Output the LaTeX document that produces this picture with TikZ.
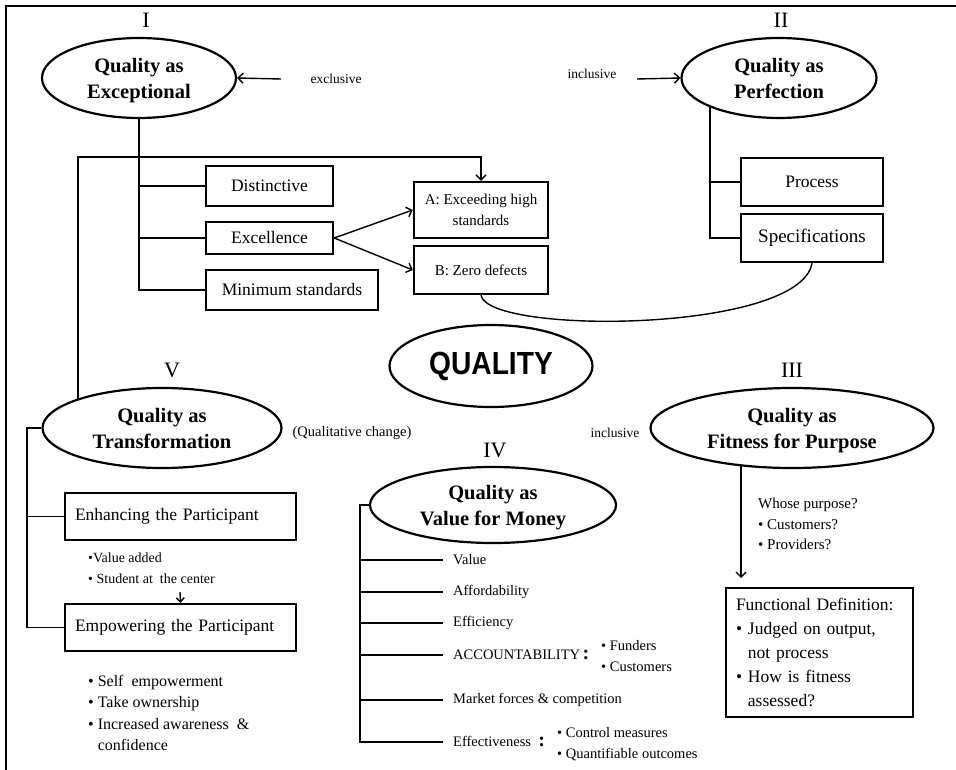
\documentclass[tikz,border=0pt]{standalone}
\usepackage{fontspec}
\setmainfont{Liberation Serif}
\newfontfamily\qfont{Liberation Sans}
\usetikzlibrary{shapes.geometric,arrows.meta,backgrounds}
\begin{document}
\begin{tikzpicture}[x=1pt,y=-1pt,
  oval/.style={ellipse,draw,line width=2.2pt,fill=white,inner sep=0pt,align=center,text depth=0pt,font=\fontsize{20.5}{26}\selectfont\bfseries},
  box/.style={rectangle,draw,line width=2.4pt,fill=white,inner sep=0pt,align=center,font=\fontsize{17.5}{22}\selectfont},
  conn/.style={line width=1.4pt},
  arr/.style={conn,-{Straight Barb[length=5pt,width=10pt]}},
  lbl/.style={inner sep=0pt,align=left},
  item/.style={anchor=west,inner xsep=10pt,inner ysep=0pt,font=\fontsize{14.5}{18}\selectfont},
  roman/.style={font=\fontsize{22}{22}\selectfont,inner sep=0pt}]
\useasboundingbox (0,0) rectangle (956,770);
\draw[line width=2.2pt] (6,770) -- (6,6) -- (956,6);

% roman numerals
\node[roman] (nI) at (146,20) {I};
\node[roman] (nII) at (781,20) {II};
\node[roman] (nIII) at (792,370) {III};
\node[roman] (nIV) at (495,450) {IV};
\node[roman] (nV) at (172,370) {V};

% ellipses
\node[oval,minimum width=194pt,minimum height=80pt] (exc) at (139,78) {Quality as\\Exceptional};
\node[oval,minimum width=195pt,minimum height=80pt] (perf) at (779,78) {Quality as\\Perfection};
\node[oval,minimum width=239pt,minimum height=80pt] (trans) at (162,428) {Quality as\\Transformation};
\node[oval,minimum width=246pt,minimum height=76pt] (vfm) at (493,505) {Quality as\\Value for Money};
\node[oval,minimum width=283pt,minimum height=80pt] (fit) at (792,428) {Quality as\\Fitness for Purpose};
\node[ellipse,draw,line width=2.2pt,fill=white,inner sep=0pt,minimum width=203pt,minimum height=82pt,font=\qfont\bfseries\fontsize{32}{32}\selectfont] (q) at (491,366) {\scalebox{0.88}[1]{QUALITY}};

% side labels
\node[lbl,font=\fontsize{13.5}{16}\selectfont] (exclusive) at (336,79) {exclusive};
\node[lbl,font=\fontsize{13.5}{16}\selectfont] (incl1) at (592,74) {inclusive};
\node[lbl,font=\fontsize{13.5}{16}\selectfont] (incl2) at (615,433) {inclusive};
\node[lbl,font=\fontsize{14.5}{18}\selectfont] (qchange) at (352,433) {(Qualitative change)};

% boxes
\node[box,minimum width=127pt,minimum height=40pt] (dist) at (269.5,186) {Distinctive};
\node[box,minimum width=127pt,minimum height=32pt] (excel) at (269.5,238) {Excellence};
\node[box,minimum width=172pt,minimum height=40pt] (mins) at (292,290) {Minimum standards};
\node[box,minimum width=134pt,minimum height=56pt,font=\fontsize{15}{21}\selectfont] (boxA) at (481,210) {A: Exceeding high\\standards};
\node[box,minimum width=134pt,minimum height=48pt,font=\fontsize{15}{21}\selectfont] (boxB) at (481,270) {B: Zero defects};
\node[box,minimum width=142pt,minimum height=48pt] (proc) at (812,182) {Process};
\node[box,minimum width=142pt,minimum height=48pt,font=\fontsize{19}{22}\selectfont] (spec) at (812,238) {Specifications};
\node[box,minimum width=231pt,minimum height=47pt,text width=211pt,align=left] (enh) at (180.5,516.5) {Enhancing the Participant};
\node[box,minimum width=231pt,minimum height=47pt,text width=211pt,align=left] (empw) at (180.5,627.5) {Empowering the Participant};
\node[box,minimum width=187pt,minimum height=129pt,text width=167pt,align=left,font=\fontsize{17.5}{24}\selectfont] (func) at (819.5,652.5) {Functional Definition:\\• Judged on output,\\\phantom{• }not process\\• How is fitness\\\phantom{• }assessed?};

% bullet texts
\node[lbl,anchor=north west,font=\fontsize{14}{21}\selectfont] (b1) at (88,553) {•Value added\\• Student at\ \ the center};
\node[lbl,anchor=north west,font=\fontsize{16}{21.5}\selectfont] (b2) at (88,675) {• Self\ \ empowerment\\• Take ownership\\• Increased awareness\ \ \&\\\phantom{• }confidence};
\node[lbl,anchor=north west,font=\fontsize{15}{20.5}\selectfont] (whose) at (758,498) {Whose purpose?\\• Customers?\\• Providers?};

% value for money items
\node[item] (iVal) at (443,560) {Value};
\node[item] (iAff) at (443,592) {Affordability};
\node[item] (iEffi) at (443,623) {Efficiency};
\node[item] (iAcc) at (443,655) {ACCOUNTABILITY\,{\fontsize{20}{20}\selectfont\bfseries :}};
\node[item] (iMkt) at (443,700) {Market forces \& competition};
\node[item] (iEff) at (443,742) {Effectiveness\ \ {\fontsize{20}{20}\selectfont\bfseries :}};
\node[lbl,anchor=west,font=\fontsize{14.5}{21}\selectfont] (accB) at (601,656) {• Funders\\• Customers};
\node[lbl,anchor=west,font=\fontsize{14.5}{21}\selectfont] (effB) at (557,744) {• Control measures\\• Quantifiable outcomes};

% connectors
\coordinate (exA) at (281,79);
\coordinate (inA) at (637,79);
\draw[arr] (exA) -- (exc.east);
\draw[arr] (inA) -- (perf.west);
\draw[arr] (excel.east) -- (boxA.west);
\draw[arr] (excel.east) -- (boxB.west);
\draw[conn] (boxB.south) .. controls (488,335) and (800,333) .. (spec.south);
\coordinate (sa) at (180,592);
\draw[conn,-{Straight Barb[length=4pt,width=8pt]}] (sa) -- (empw.north);

\begin{scope}[on background layer]
\draw[conn] (exc.south) |- (mins.west);
\draw[conn] (exc.south |- dist.west) -- (dist.west);
\draw[conn] (exc.south |- excel.west) -- (excel.west);
\coordinate (pt) at (710,78);
\draw[conn] (pt) |- (spec.west);
\draw[conn] (pt |- proc.west) -- (proc.west);
\coordinate (tv) at (78,428);
\coordinate (topline) at (78,157);
\draw[arr] (tv) -- (topline) -| (boxA.north);
\coordinate (tbr) at (27,428);
\draw[conn] (trans.west) -- (tbr) |- (empw.west);
\draw[conn] (tbr |- enh.west) -- (enh.west);
\coordinate (vbr) at (360,505);
\draw[conn] (vfm.west) -- (vbr) |- (iEff.west);
\foreach \n in {iVal,iAff,iEffi,iAcc,iMkt}
  \draw[conn] (vbr |- \n.west) -- (\n.west);
\coordinate (fitS) at (741,440);
\coordinate (fitE) at (741,578);
\draw[arr] (fitS) -- (fitE);
\end{scope}
\end{tikzpicture}
\end{document}
